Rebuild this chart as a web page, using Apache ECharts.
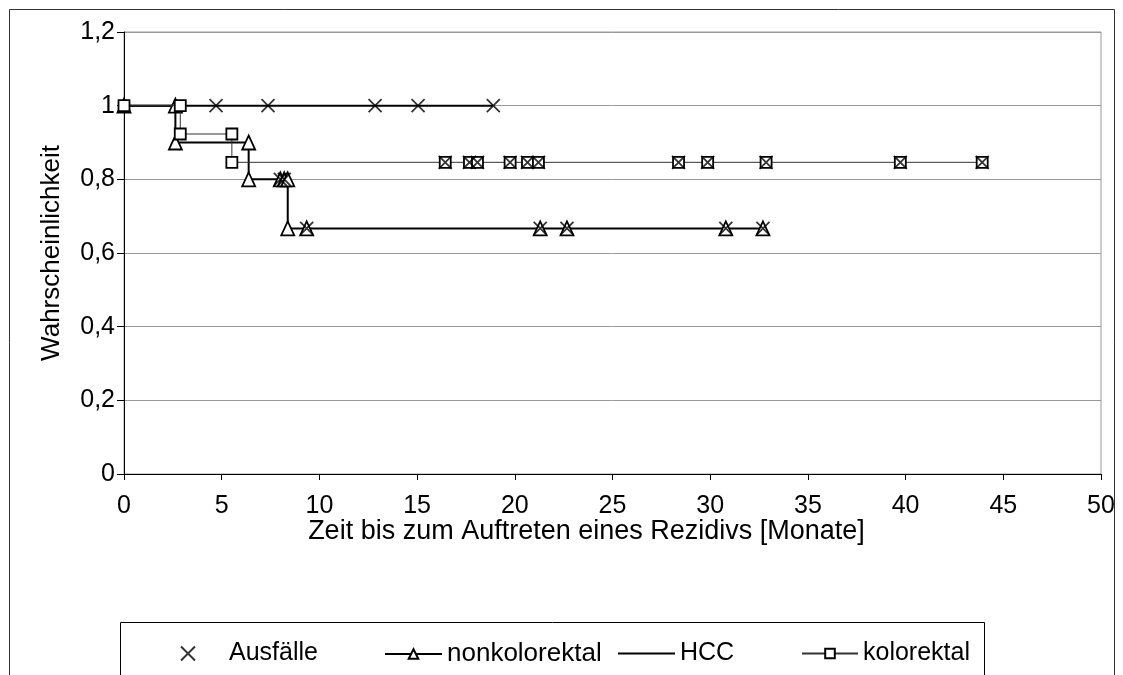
<!DOCTYPE html>
<html>
<head>
<meta charset="utf-8">
<script src="https://cdn.jsdelivr.net/npm/echarts@6/dist/echarts.min.js"></script>
<style>
  html, body { margin: 0; padding: 0; background: #fff; }
  #chart { width: 1123px; height: 675px; }
</style>
</head>
<body>
<div id="chart"></div>
<script>
// Kaplan-Meier curves, values (months, probability)
const hccTime = [0, 4.71, 7.37, 12.85, 15.05, 18.9]
const hccProb = [1, 1, 1, 1, 1, 1]

const nonkoloTime = [0, 2.63, 2.63, 6.38, 6.38, 8.0, 8.2, 8.38, 8.38, 9.35, 21.3, 22.67, 30.8, 32.7]
const nonkoloProb = [1, 1, 0.9, 0.9, 0.8, 0.8, 0.8, 0.8, 0.6667, 0.6667, 0.6667, 0.6667, 0.6667, 0.6667]

const koloTime = [0, 2.88, 2.88, 5.52, 5.52, 16.44, 17.68, 18.09, 19.76, 20.65, 21.21, 28.38, 29.87, 32.86, 39.73, 43.92]
const koloProb = [1, 1, 0.9231, 0.9231, 0.8462, 0.8462, 0.8462, 0.8462, 0.8462, 0.8462, 0.8462, 0.8462, 0.8462, 0.8462, 0.8462, 0.8462]

// censored observations (Ausfälle)
const ausfaelleTime = [4.71, 7.37, 12.85, 15.05, 18.9,
  8.0, 8.2, 9.35, 21.3, 22.67, 30.8, 32.7,
  16.44, 17.68, 18.09, 19.76, 20.65, 21.21, 28.38, 29.87, 32.86, 39.73, 43.92]
const ausfaelleProb = [1, 1, 1, 1, 1,
  0.8, 0.8, 0.6667, 0.6667, 0.6667, 0.6667, 0.6667,
  0.8462, 0.8462, 0.8462, 0.8462, 0.8462, 0.8462, 0.8462, 0.8462, 0.8462, 0.8462, 0.8462]

const yTickLabels = ['0', '0,2', '0,4', '0,6', '0,8', '1', '1,2']
const xTickLabels = ['0', '5', '10', '15', '20', '25', '30', '35', '40', '45', '50']

const font = "'Liberation Sans', Arial, sans-serif"
const crossPath = 'path://M0,0L12,12M12,0L0,12'

const pairs = (xs, ys) => xs.map((x, i) => [x, ys[i]])

const chart = echarts.init(document.getElementById('chart'), null, { renderer: 'canvas' })

const legendText = { color: '#000', fontSize: 25, fontFamily: font }

chart.setOption({
  animation: false,
  backgroundColor: '#fff',
  textStyle: { fontFamily: font },
  graphic: [
    { type: 'rect', shape: { x: 9.5, y: 9.5, width: 1105, height: 720 }, style: { fill: 'none', stroke: '#333', lineWidth: 1 }, silent: true },
    { type: 'rect', shape: { x: 120.5, y: 622.5, width: 864, height: 80 }, style: { fill: '#fff', stroke: '#000', lineWidth: 1 }, silent: true, z: -1 },
  ],
  grid: {
    left: 124, right: 22, top: 32, bottom: 201,
    show: true, borderColor: '#999', borderWidth: 1,
    outerBoundsMode: 'none',
  },
  legend: [
    {
      data: ['Ausfälle'], left: 180, top: 641, padding: 0,
      itemWidth: 14, itemHeight: 14,
      textStyle: { ...legendText, padding: [0, 0, 0, 29] },
    },
    { data: ['nonkolorektal'], left: 384, top: 641, padding: 0, itemWidth: 57, itemHeight: 12, textStyle: { ...legendText, fontSize: 26 } },
    { data: ['HCC'], left: 618, top: 641, padding: 0, itemWidth: 57, itemHeight: 2, icon: 'rect', textStyle: legendText },
    { data: ['kolorektal'], left: 801, top: 641, padding: 0, itemWidth: 56, itemHeight: 12, textStyle: legendText },
  ],
  xAxis: {
    type: 'value',
    min: 0, max: 50, interval: 5,
    name: 'Zeit bis zum Auftreten eines Rezidivs [Monate]',
    nameLocation: 'middle',
    nameGap: 44,
    nameMoveOverlap: false,
    nameTextStyle: { color: '#000', fontSize: 27, fontFamily: font, padding: [0, 52, 0, 0] },
    axisLine: { onZero: false, lineStyle: { color: '#000', width: 1 } },
    axisTick: { inside: false, length: 6, lineStyle: { color: '#000' } },
    axisLabel: {
      color: '#000', fontSize: 25, fontFamily: font, margin: 20,
      showMinLabel: true, showMaxLabel: true,
      formatter: (v) => xTickLabels[Math.round(v / 5)],
    },
    splitLine: { show: false },
  },
  yAxis: {
    type: 'value',
    min: 0, max: 1.2, interval: 0.2,
    name: 'Wahrscheinlichkeit',
    nameLocation: 'middle',
    nameGap: 59,
    nameMoveOverlap: false,
    nameTextStyle: { color: '#000', fontSize: 26, fontFamily: font },
    axisLine: { show: true, onZero: false, lineStyle: { color: '#000', width: 1 } },
    axisTick: { show: true, inside: false, length: 7, lineStyle: { color: '#000' } },
    axisLabel: {
      color: '#000', fontSize: 25, fontFamily: font, margin: 9,
      showMinLabel: true, showMaxLabel: true,
      formatter: (v) => yTickLabels[Math.round(v / 0.2)],
    },
    splitLine: { lineStyle: { color: '#999', width: 1 } },
  },
  series: [
    {
      name: 'HCC',
      type: 'line',
      data: pairs(hccTime, hccProb),
      symbol: 'none',
      lineStyle: { color: '#000', width: 2 },
      itemStyle: { color: '#000' },
      z: 2,
    },
    {
      name: 'nonkolorektal',
      type: 'line',
      data: pairs(nonkoloTime, nonkoloProb),
      symbol: 'triangle',
      symbolSize: [13, 14],
      lineStyle: { color: '#000', width: 2 },
      itemStyle: { color: '#fff', borderColor: '#000', borderWidth: 1.8 },
      z: 3,
    },
    {
      name: 'kolorektal',
      type: 'line',
      data: pairs(koloTime, koloProb),
      symbol: 'rect',
      symbolSize: 11,
      lineStyle: { color: '#333', width: 1 },
      itemStyle: { color: '#fff', borderColor: '#000', borderWidth: 1.8 },
      z: 4,
    },
    {
      name: 'Ausfälle',
      type: 'scatter',
      data: pairs(ausfaelleTime, ausfaelleProb),
      symbol: crossPath,
      symbolSize: 13,
      itemStyle: { color: 'rgba(0,0,0,0)', borderColor: '#000', borderWidth: 1.8 },
      z: 5,
    },
  ],
})
</script>
</body>
</html>
